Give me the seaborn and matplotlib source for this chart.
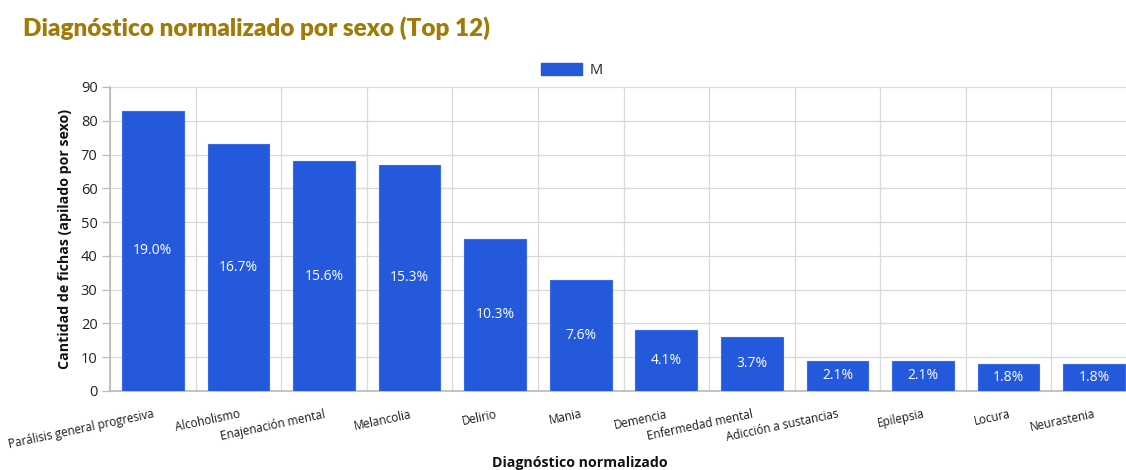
import matplotlib
matplotlib.use("Agg")
import matplotlib.pyplot as plt
import seaborn as sns
import pandas as pd
import numpy as np
from matplotlib.patches import Patch

# Diagnoses (top 12) and counts of records for sex "M"
diagnosticos = [
    "Parálisis general progresiva", "Alcoholismo", "Enajenación mental",
    "Melancolia", "Delirio", "Mania", "Demencia", "Enfermedad mental",
    "Adicción a sustancias", "Epilepsia", "Locura", "Neurastenia",
]
conteos_m = [83, 73, 68, 67, 45, 33, 18, 16, 9, 9, 8, 8]
sexo = "M"
y_ticks = [0, 10, 20, 30, 40, 50, 60, 70, 80, 90]

df = pd.DataFrame({"diagnostico": diagnosticos, "conteo": conteos_m, "sexo": sexo})
total = df["conteo"].sum()

sns.set_theme(style="white")
plt.rcParams["font.family"] = ["Open Sans", "DejaVu Sans"]

BLUE = "#2459DC"
fig = plt.figure(figsize=(11.26, 4.70), dpi=100)
ax = fig.add_axes([110 / 1126, 79 / 470, 1027 / 1126, 304 / 470])

sns.barplot(data=df, x="diagnostico", y="conteo", color=BLUE, width=0.72,
            saturation=1, edgecolor="#3a6be6", linewidth=0.8, ax=ax, zorder=3)

# percentage labels centred inside each bar
for i, v in enumerate(conteos_m):
    ax.text(i, v / 2, f"{v / total * 100:.1f}%", ha="center", va="center",
            color="white", fontsize=10, zorder=4)

ax.set_xlim(-0.5, len(diagnosticos) - 0.5)
ax.set_ylim(0, 90)
ax.set_yticks(y_ticks)
ax.set_yticklabels([str(t) for t in y_ticks], fontsize=10.5, color="#222222")

# grid: horizontal at value ticks, vertical at category boundaries
ax.set_xticks(np.arange(-0.5, len(diagnosticos)), minor=True)
ax.grid(True, axis="y", which="major", color="#d9d9d9", linewidth=0.9, zorder=0)
ax.grid(True, axis="x", which="minor", color="#d9d9d9", linewidth=0.9, zorder=0)
ax.tick_params(axis="x", which="major", length=0, pad=12)
ax.tick_params(axis="x", which="minor", length=7, color="#bbbbbb", width=0.9)
ax.tick_params(axis="y", which="major", length=6, color="#bbbbbb", width=0.9, pad=3, left=True)
ax.set_xticklabels(diagnosticos, rotation=12, ha="right", va="top",
                   rotation_mode="anchor", fontsize=8.4, color="#1a1a1a")

for s in ["top", "right"]:
    ax.spines[s].set_visible(False)
ax.spines["left"].set_color("#bbbbbb")
ax.spines["bottom"].set_color("#bbbbbb")

ax.set_ylabel("Cantidad de fichas (apilado por sexo)", fontsize=10.2,
              fontweight="bold", color="#111111", labelpad=6)
ax.set_xlabel("")
fig.text(0.515, 0.0, "Diagnóstico normalizado", ha="center", va="bottom",
         fontsize=10.2, fontweight="bold", color="#111111")

fig.text(0.02, 0.915, "Diagnóstico normalizado por sexo (Top 12)", ha="left",
         va="bottom", fontsize=17.5, fontweight="heavy", color="#A27B06",
         family=["Lato", "DejaVu Sans"])

fig.legend(handles=[Patch(facecolor=BLUE, edgecolor=BLUE, label=sexo)],
           loc="center", bbox_to_anchor=(0.508, 0.85), frameon=False,
           handlelength=2.8, handleheight=0.9, handletextpad=0.5, fontsize=10.5)

fig.savefig("out.png", dpi=100, facecolor="white")
